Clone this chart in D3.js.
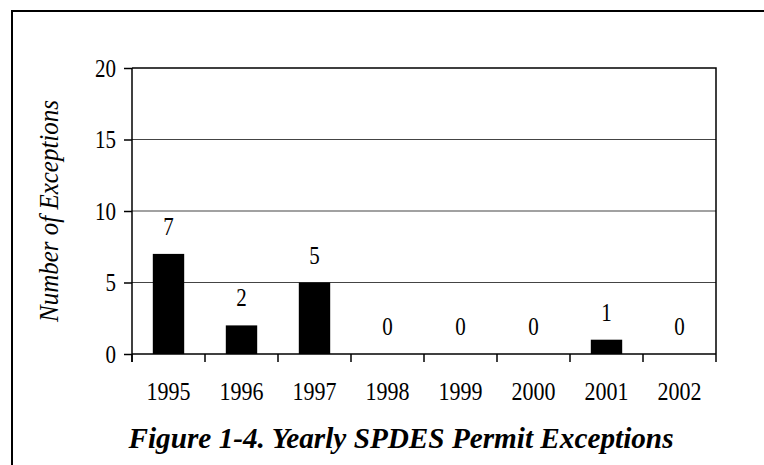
<!DOCTYPE html>
<html>
<head>
<meta charset="utf-8">
<script src="https://cdn.jsdelivr.net/npm/d3@7"></script>
<style>
  body { margin: 0; background: #fff; }
  svg { display: block; }
  svg text { font-family: 'Liberation Serif', 'Times New Roman', Times, serif !important; fill: #000; }
</style>
</head>
<body>
<div id="chart"></div>
<script>
// data
const years = ['1995', '1996', '1997', '1998', '1999', '2000', '2001', '2002']
const exceptions = [7, 2, 5, 0, 0, 0, 1, 0]
const yTicks = [0, 5, 10, 15, 20]

const width = 764, height = 465
const margin = { top: 68, right: 48, bottom: 111, left: 132 }
const plotW = width - margin.left - margin.right
const plotH = height - margin.top - margin.bottom
const digitW = 10.5 // the original type is a narrow Times

const svg = d3.select('#chart').append('svg')
    .attr('width', width)
    .attr('height', height)

// outer frame (runs off the right and bottom edges)
svg.append('rect')
    .attr('x', 12).attr('y', 11)
    .attr('width', 800).attr('height', 500)
    .attr('fill', 'none')
    .attr('stroke', '#000')
    .attr('stroke-width', 2)

const g = svg.append('g')
    .attr('transform', `translate(${margin.left},${margin.top})`)

const x = d3.scaleBand().domain(years).range([0, plotW]).padding(0)
const y = d3.scaleLinear().domain([0, 20]).range([plotH, 0])

// gridlines
g.selectAll('.grid')
    .data(yTicks.filter(t => t > 0 && t < 20))
    .join('line')
    .attr('x1', 0).attr('x2', plotW)
    .attr('y1', d => y(d)).attr('y2', d => y(d))
    .attr('stroke', '#444')
    .attr('stroke-width', 1.2)

// top and right frame of plot
g.append('path')
    .attr('d', `M0,${y(20)}H${plotW}V${plotH}`)
    .attr('fill', 'none')
    .attr('stroke', '#000')
    .attr('stroke-width', 1.5)

// bars
const barW = x.bandwidth() * 0.43
g.selectAll('.bar')
    .data(exceptions)
    .join('rect')
    .attr('x', (d, i) => x(years[i]) + (x.bandwidth() - barW) / 2)
    .attr('y', d => y(d))
    .attr('width', barW)
    .attr('height', d => plotH - y(d))
    .attr('fill', '#000')

// value labels
g.selectAll('.val')
    .data(exceptions)
    .join('text')
    .attr('x', (d, i) => x(years[i]) + x.bandwidth() / 2)
    .attr('y', d => y(d) - 19)
    .attr('text-anchor', 'middle')
    .style('font-size', '26px')
    .attr('textLength', d => String(d).length * digitW)
    .attr('lengthAdjust', 'spacingAndGlyphs')
    .text(d => d)

// y axis
const yAxis = g.append('g')
    .call(d3.axisLeft(y).tickValues(yTicks).tickSize(8).tickPadding(8))
yAxis.select('.domain').attr('stroke', '#000').attr('stroke-width', 1.5)
    .attr('d', `M0,${y(20)}V${plotH + 8}`)
yAxis.selectAll('.tick line').attr('stroke', '#000').attr('stroke-width', 1.5)
yAxis.selectAll('.tick text')
    .style('font-size', '26px')
    .attr('fill', '#000')
    .attr('textLength', d => String(d).length * digitW)
    .attr('lengthAdjust', 'spacingAndGlyphs')

// x axis: ticks on band boundaries
const xg = g.append('g').attr('transform', `translate(0,${plotH})`)
xg.append('line')
    .attr('x1', 0).attr('x2', plotW)
    .attr('stroke', '#000').attr('stroke-width', 1.5)
const bounds = years.map(d => x(d)).concat([plotW])
xg.selectAll('.xt')
    .data(bounds)
    .join('line')
    .attr('x1', d => d).attr('x2', d => d)
    .attr('y1', 0).attr('y2', 8)
    .attr('stroke', '#000').attr('stroke-width', 1.5)
xg.selectAll('.xl')
    .data(years)
    .join('text')
    .attr('x', d => x(d) + x.bandwidth() / 2)
    .attr('y', 46)
    .attr('text-anchor', 'middle')
    .style('font-size', '26px')
    .attr('textLength', d => d.length * digitW + 2)
    .attr('lengthAdjust', 'spacingAndGlyphs')
    .text(d => d)

// y axis title
svg.append('text')
    .attr('transform', `translate(58,${margin.top + plotH / 2}) rotate(-90)`)
    .attr('text-anchor', 'middle')
    .style('font-size', '27px')
    .style('font-style', 'italic')
    .attr('textLength', 222)
    .attr('lengthAdjust', 'spacingAndGlyphs')
    .text('Number of Exceptions')

// figure caption
svg.append('text')
    .attr('x', 401)
    .attr('y', 448)
    .attr('text-anchor', 'middle')
    .style('font-size', '30px')
    .style('font-style', 'italic')
    .style('font-weight', 'bold')
    .attr('textLength', 545)
    .attr('lengthAdjust', 'spacingAndGlyphs')
    .text('Figure 1-4. Yearly SPDES Permit Exceptions')
</script>
</body>
</html>
